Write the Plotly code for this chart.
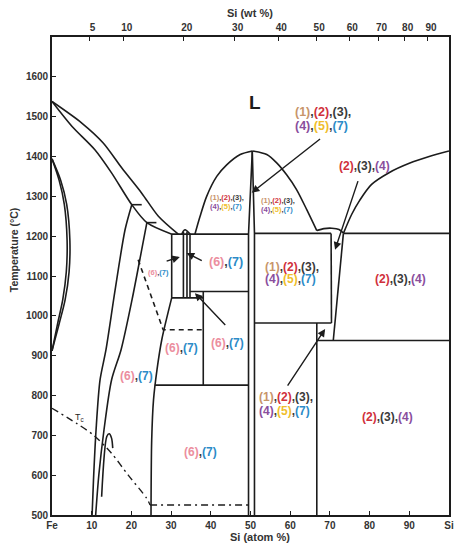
import plotly.graph_objects as go

# ---------------- axis data ----------------
at_ticks = [0, 10, 20, 30, 40, 50, 60, 70, 80, 90, 100]
at_labels = ["Fe", "10", "20", "30", "40", "50", "60", "70", "80", "90", "Si"]
t_ticks = [500, 600, 700, 800, 900, 1000, 1100, 1200, 1300, 1400, 1500, 1600]
wt_ticks = [5, 10, 20, 30, 40, 50, 60, 70, 80, 90]
M_FE, M_SI = 55.845, 28.0855

# ---------------- phase boundary data (Si at%, T degC) ----------------
liq_fe_x = [0, 7.5, 12.9, 17.6, 22.6, 26.8, 31.8]
liq_fe_t = [1538, 1484, 1434, 1371, 1308, 1250, 1205]
sol_fe_x = [0, 5.0, 10.8, 15.0, 20.1, 23.9, 30.2]
sol_fe_t = [1538, 1476, 1417, 1359, 1279, 1234, 1205]

gam_out_x = [0, 2.2, 3.7, 4.5, 4.3, 3.3, 1.8, 0]
gam_out_t = [1394, 1340, 1280, 1190, 1110, 1040, 980, 912]
gam_in_x = [0, 1.8, 3.1, 3.8, 3.6, 2.7, 1.4, 0]
gam_in_t = [1394, 1340, 1280, 1190, 1110, 1040, 980, 912]

lineA_x = [20.1, 18.4, 15.9, 13.6, 12.1, 11.1, 10.45, 10.1]
lineA_t = [1279, 1216, 1065, 915, 839, 714, 588, 500]
lineB_x = [23.9, 22.6, 20.15, 17.4, 15.0, 13.1, 11.8, 11.0]
lineB_t = [1234, 1166, 1040, 915, 839, 714, 601, 500]
tickA_x = [20.1, 22.6]
tickA_t = [1279, 1279]
tickB_x = [23.9, 26.3]
tickB_t = [1234, 1234]
nose_x = [12.5, 13.8, 14.4, 15.0, 15.3]
nose_t = [546, 697, 704, 693, 668]

lineD_x = [30.15, 27.65, 26.45, 25.57, 25.11, 24.94]
lineD_t = [1045, 940, 865, 789, 688, 500]

dash_x = [21.7, 28.0, 38.1]
dash_t = [1141, 965, 965]

box_left_x = [30.15, 30.15]
box_left_t = [1205, 1045]
fe2si_l_x = [33.1, 33.1]
fe2si_l_t = [1045, 1211]
fe2si_r_x = [34.0, 34.0]
fe2si_r_t = [1045, 1211]
fe2si_dome_x = [32.7, 33.1, 33.55, 34.0, 34.8]
fe2si_dome_t = [1205, 1213, 1216, 1213, 1205]
box_right_x = [34.76, 34.76]
box_right_t = [1205, 1045]
h1045_x = [30.15, 38.1]
h1045_t = [1045, 1045]
h1061_x = [34.76, 49.5]
h1061_t = [1061, 1061]
fe5si3_x = [38.1, 38.1]
fe5si3_t = [1061, 826]
h826_x = [25.9, 49.5]
h826_t = [826, 826]
eut1_x = [30.15, 49.5]
eut1_t = [1205, 1205]

fesi_l_x = [49.5, 49.5, 50.45]
fesi_l_t = [500, 1205, 1414]
fesi_r_x = [51.0, 51.0, 50.45]
fesi_r_t = [500, 1207, 1414]

dome_l_x = [36.0, 37.3, 38.96, 41.5, 44.0, 47.4, 50.45]
dome_l_t = [1205, 1250, 1300, 1350, 1379, 1405, 1414]
dome_r_x = [50.45, 54.1, 56.6, 59.1, 61.6, 64.2, 66.7]
dome_r_t = [1414, 1405, 1384, 1354, 1317, 1266, 1214]
hump_x = [66.7, 68.5, 70.5, 72.3, 73.4]
hump_t = [1214, 1219, 1220, 1217, 1208]

eut2_x = [51.0, 70.3]
eut2_t = [1207, 1207]
eut3_x = [73.4, 100]
eut3_t = [1207, 1207]
wedge_l_x = [70.3, 70.4]
wedge_l_t = [1207, 982]
wedge_r_x = [73.4, 70.85]
wedge_r_t = [1207, 938]
h982_x = [51.0, 70.4]
h982_t = [982, 982]
v667_x = [66.7, 66.7]
v667_t = [982, 500]
h938_x = [66.7, 100]
h938_t = [938, 938]

liq_si_x = [73.4, 75.5, 77.5, 80.5, 85, 90, 95, 100]
liq_si_t = [1207, 1255, 1290, 1330, 1360, 1383, 1400, 1414]

tc_x = [0, 6.2, 10.4, 15.0, 19.2, 23.85, 24.7]
tc_t = [768, 730, 701, 655, 600, 542, 525]
do3_x = [24.7, 49.4]
do3_t = [525, 525]

# ---------------- labels ----------------
COL = {1: "#C8956A", 2: "#D0313B", 3: "#3A3A3A", 4: "#8A4E9D",
       5: "#F0BE2C", 6: "#EC8E9E", 7: "#2C8BC8"}
COMMA = "#3A3A3A"

lab_all_1 = [1, 2, 3]
lab_all_2 = [4, 5, 7]
lab_234 = [2, 3, 4]
lab_67 = [6, 7]

big_all_pos = [(60.7, 1511, 1477, 12.5), (53.1, 1122, 1092, 12), (51.6, 795, 762, 12)]
small_all_pos = [(39.3, 1296, 1275, 7.5), (52.1, 1290, 1268, 7.5)]
p234_pos = [(78.6, 1375, 12), (87.9, 1092, 12), (84.5, 745, 12)]
p67_pos = [(26.95, 1108, 7.5), (43.8, 1136, 12.5), (44.2, 931, 12), (32.7, 919, 12),
           (21.3, 849, 12), (37.3, 657, 12)]

arrows = [((67.9, 1447), (50.3, 1309)), ((77.2, 1342), (71.3, 1166)),
          ((59.1, 821), (68.8, 967)), ((28.5, 1136), (32.2, 1148)),
          ((38.1, 1137), (33.9, 1158)), ((44.0, 973), (36.0, 1057))]


def wt_to_at(w):
    a = w / M_SI
    b = (100 - w) / M_FE
    return 100 * a / (a + b)


def colored(nums, trailing=False):
    parts = ['<span style="color:%s">(%d)</span>' % (COL[n], n) for n in nums]
    s = '<span style="color:%s">,</span>' % COMMA
    out = s.join(parts)
    if trailing:
        out += s
    return out


FONT = "Arial, Liberation Sans, sans-serif"
LC = "#1c1c1c"

fig = go.Figure()


def add_line(x, t, shape="linear", dash="solid", width=1.6):
    fig.add_trace(go.Scatter(x=x, y=t, mode="lines",
                             line=dict(color=LC, width=width, shape=shape, dash=dash,
                                       smoothing=0.8 if shape == "spline" else None),
                             hoverinfo="skip", showlegend=False))


for x, t in [(liq_fe_x, liq_fe_t), (sol_fe_x, sol_fe_t), (gam_out_x, gam_out_t),
             (gam_in_x, gam_in_t), (lineA_x, lineA_t), (lineB_x, lineB_t),
             (nose_x, nose_t), (lineD_x, lineD_t), (fe2si_dome_x, fe2si_dome_t),
             (dome_l_x, dome_l_t), (dome_r_x, dome_r_t), (hump_x, hump_t),
             (liq_si_x, liq_si_t)]:
    add_line(x, t, shape="spline")

for x, t in [(tickA_x, tickA_t), (tickB_x, tickB_t), (box_left_x, box_left_t),
             (fe2si_l_x, fe2si_l_t), (fe2si_r_x, fe2si_r_t), (box_right_x, box_right_t),
             (h1045_x, h1045_t), (h1061_x, h1061_t), (fe5si3_x, fe5si3_t),
             (h826_x, h826_t), (eut1_x, eut1_t), (fesi_l_x, fesi_l_t),
             (fesi_r_x, fesi_r_t), (eut2_x, eut2_t), (eut3_x, eut3_t),
             (wedge_l_x, wedge_l_t), (wedge_r_x, wedge_r_t), (h982_x, h982_t),
             (v667_x, v667_t), (h938_x, h938_t)]:
    add_line(x, t)

add_line(dash_x, dash_t, dash="5px,4px")
add_line(tc_x, tc_t, shape="spline", dash="7px,4px,2px,4px", width=1.4)
add_line(do3_x, do3_t, dash="7px,4px,2px,4px", width=1.4)

fig.add_trace(go.Scatter(x=[0, 100], y=[500, 500], xaxis="x2", mode="lines",
                         line=dict(width=0), hoverinfo="skip", showlegend=False))

ann = []
for x, t1, t2, sz in big_all_pos + small_all_pos:
    ann.append(dict(x=x, y=t1, text=colored(lab_all_1, True), xanchor="left",
                    font=dict(size=sz, family=FONT, weight="bold")))
    ann.append(dict(x=x, y=t2, text=colored(lab_all_2), xanchor="left",
                    font=dict(size=sz, family=FONT, weight="bold")))
for x, t, sz in p234_pos:
    ann.append(dict(x=x, y=t, text=colored(lab_234), xanchor="center",
                    font=dict(size=sz, family=FONT, weight="bold")))
for x, t, sz in p67_pos:
    ann.append(dict(x=x, y=t, text=colored(lab_67), xanchor="center",
                    font=dict(size=sz, family=FONT, weight="bold")))
for a in ann:
    a.update(xref="x", yref="y", showarrow=False, yanchor="middle")

ann.append(dict(x=51.1, y=1535, xref="x", yref="y", text="L", showarrow=False,
                xanchor="center", yanchor="middle",
                font=dict(size=19, family=FONT, color="#1c1c1c", weight="bold")))
ann.append(dict(x=7.05, y=746, xref="x", yref="y", text="T<sub>c</sub>", showarrow=False,
                xanchor="center", yanchor="middle",
                font=dict(size=9, family=FONT, color="#1c1c1c")))

for (tx, tt), (hx, ht) in arrows:
    ann.append(dict(x=hx, y=ht, ax=tx, ay=tt, xref="x", yref="y", axref="x", ayref="y",
                    text="", showarrow=True, arrowhead=2, arrowsize=1.1, arrowwidth=1.4,
                    arrowcolor=LC))

ann.append(dict(x=0.524, y=-0.046, xref="paper", yref="paper", text="<b>Si (atom %)</b>",
                xanchor="center", yanchor="middle",
                showarrow=False, font=dict(size=11, family=FONT, color="#333")))
ann.append(dict(x=0.499, y=1.050, xref="paper", yref="paper", text="<b>Si (wt %)</b>",
                xanchor="center", yanchor="middle",
                showarrow=False, font=dict(size=11, family=FONT, color="#333")))
ann.append(dict(x=-0.0957, y=0.554, xref="paper", yref="paper",
                text="<b>Temperature (°C)</b>", textangle=-90,
                xanchor="center", yanchor="middle",
                showarrow=False, font=dict(size=10.5, family=FONT, color="#333")))

fig.update_layout(
    width=461, height=550,
    margin=dict(l=52, r=12, t=37, b=35),
    paper_bgcolor="white", plot_bgcolor="white",
    annotations=ann,
    xaxis=dict(range=[0, 100], tickvals=at_ticks, ticktext=["<b>%s</b>" % s for s in at_labels],
               ticks="inside", ticklen=4, tickcolor=LC, showgrid=False, zeroline=False,
               showline=True, linecolor=LC, linewidth=1.6, automargin=False,
               tickfont=dict(size=10, family=FONT, color="#333")),
    xaxis2=dict(range=[0, 100], overlaying="x", side="top",
                tickvals=[wt_to_at(w) for w in wt_ticks],
                ticktext=["<b>%d</b>" % w for w in wt_ticks], ticklabelshift=3,
                ticks="inside", ticklen=4, tickcolor=LC, showgrid=False, zeroline=False,
                showline=True, linecolor=LC, linewidth=1.6, automargin=False,
                tickfont=dict(size=10, family=FONT, color="#333")),
    yaxis=dict(range=[500, 1700], tickvals=t_ticks, ticktext=["<b>%d</b>" % t for t in t_ticks],
               ticks="inside", ticklen=4, tickcolor=LC, showgrid=False, zeroline=False,
               showline=True, linecolor=LC, linewidth=1.6, mirror=True, automargin=False,
               tickfont=dict(size=10, family=FONT, color="#333")),
)

fig.write_html("out.html", config={"displayModeBar": False},
               post_script="document.body.style.margin='0';")
